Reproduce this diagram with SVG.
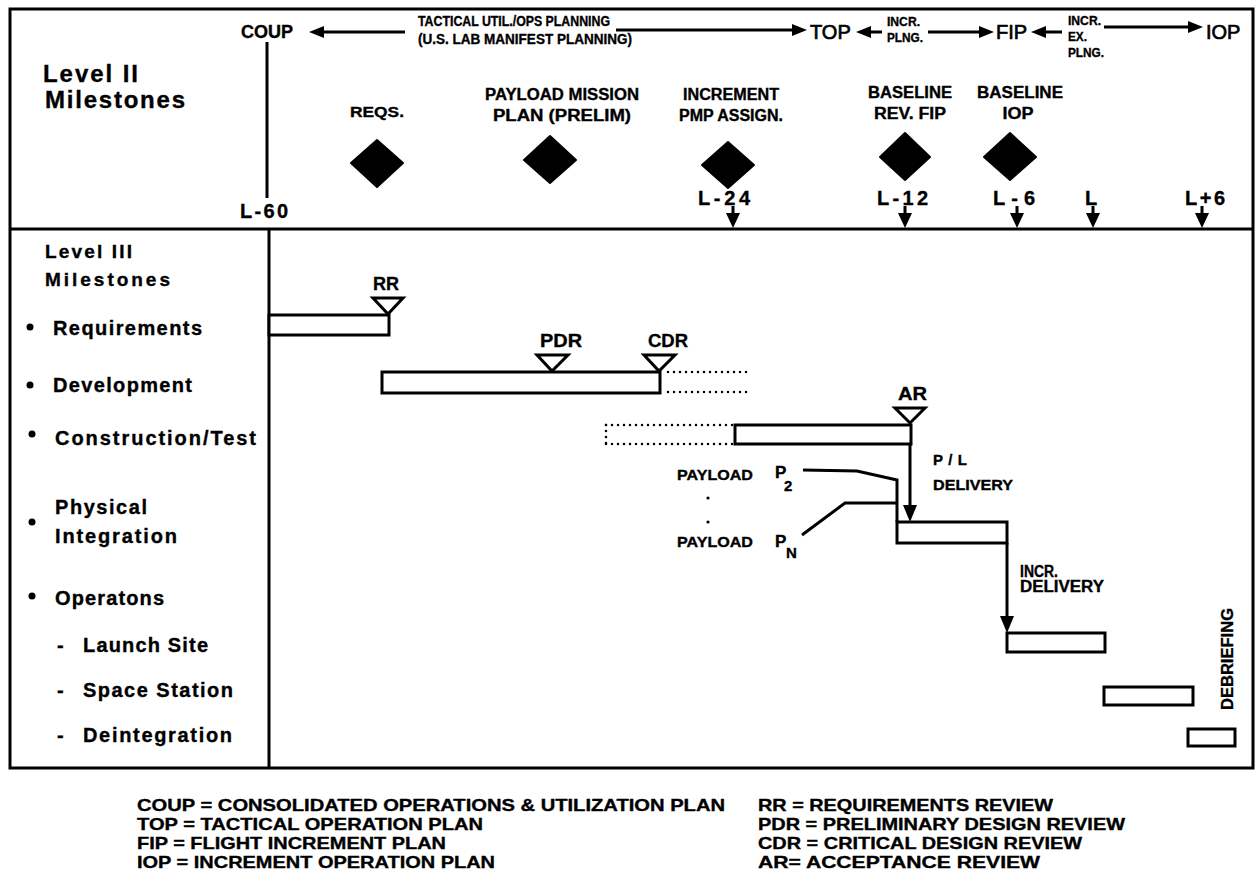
<svg xmlns="http://www.w3.org/2000/svg" width="1259" height="894" viewBox="0 0 1259 894">
<style>
.t{font-family:"Liberation Sans",Arial,sans-serif;font-weight:bold;fill:#000;stroke:#000;stroke-width:0.35}
.r{font-family:"Liberation Sans",Arial,sans-serif;font-weight:normal;fill:#000;stroke:#000;stroke-width:0.7}
.ln{stroke:#000;stroke-width:3;fill:none}
.bar{stroke:#000;stroke-width:3;fill:#fff}
.dot{stroke:#000;stroke-width:2.5;stroke-dasharray:0 6;stroke-linecap:round;fill:none}
.ah{fill:#000}
.dm{fill:#000;stroke:#000;stroke-width:2;stroke-linejoin:round}
.lg{font-size:16.5px}
</style>
<rect width="1259" height="894" fill="#fff"/>
<g id="frame">
<rect class="ln" x="10" y="9" width="1243" height="759"/>
<line class="ln" x1="10" y1="229" x2="1253" y2="229"/>
<line class="ln" x1="269" y1="229" x2="269" y2="768"/>
</g>
<g id="level2-labels">
<text class="t" x="43" y="82" font-size="24" textLength="95" lengthAdjust="spacing">Level  II</text>
<text class="t" x="45" y="108" font-size="24" textLength="140" lengthAdjust="spacing">Milestones</text>
</g>
<g id="coup">
<text class="t" x="267" y="38" font-size="18" text-anchor="middle">COUP</text>
<line class="ln" x1="267" y1="42" x2="267" y2="198"/>
<text class="t" x="240" y="218" font-size="20" textLength="48" lengthAdjust="spacing">L-60</text>
</g>
<g id="planning-header">
<text class="t" x="418" y="26" font-size="14" textLength="192" lengthAdjust="spacingAndGlyphs">TACTICAL UTIL./OPS PLANNING</text>
<text class="t" x="418" y="44" font-size="14" textLength="214" lengthAdjust="spacingAndGlyphs">(U.S. LAB MANIFEST PLANNING)</text>
<text class="r" x="810" y="39" font-size="20">TOP</text>
<text class="t" x="887" y="26" font-size="13" textLength="33" lengthAdjust="spacingAndGlyphs">INCR.</text>
<text class="t" x="887" y="42" font-size="13" textLength="36" lengthAdjust="spacingAndGlyphs">PLNG.</text>
<text class="r" x="996" y="39" font-size="20">FIP</text>
<text class="t" x="1068" y="25" font-size="13" textLength="33" lengthAdjust="spacingAndGlyphs">INCR.</text>
<text class="t" x="1068" y="41" font-size="13" textLength="19" lengthAdjust="spacingAndGlyphs">EX.</text>
<text class="t" x="1068" y="57" font-size="13" textLength="36" lengthAdjust="spacingAndGlyphs">PLNG.</text>
<text class="r" x="1206" y="39" font-size="20">IOP</text>
</g>
<g id="milestone-reqs">
<text class="t" x="377" y="117" font-size="15" text-anchor="middle" textLength="54" lengthAdjust="spacingAndGlyphs">REQS.</text>
<path class="dm" d="M377 140 L403 163 L377 187 L351 163 Z"/>
</g>
<g id="milestone-pmp">
<text class="t" x="562" y="100" font-size="16" text-anchor="middle" textLength="154" lengthAdjust="spacingAndGlyphs">PAYLOAD MISSION</text>
<text class="t" x="562" y="121" font-size="16" text-anchor="middle" textLength="138" lengthAdjust="spacingAndGlyphs">PLAN  (PRELIM)</text>
<path class="dm" d="M550 136 L576 160 L550 183 L524 160 Z"/>
</g>
<g id="milestone-increment">
<text class="t" x="731" y="100" font-size="16" text-anchor="middle" textLength="96" lengthAdjust="spacingAndGlyphs">INCREMENT</text>
<text class="t" x="731" y="121" font-size="16" text-anchor="middle" textLength="104" lengthAdjust="spacingAndGlyphs">PMP ASSIGN.</text>
<path class="dm" d="M728 142 L754 165 L728 188 L702 165 Z"/>
</g>
<g id="milestone-fip">
<text class="t" x="910" y="98" font-size="16" text-anchor="middle" textLength="84" lengthAdjust="spacingAndGlyphs">BASELINE</text>
<text class="t" x="910" y="119" font-size="16" text-anchor="middle" textLength="72" lengthAdjust="spacingAndGlyphs">REV. FIP</text>
<path class="dm" d="M905 133 L930 157 L905 180 L880 157 Z"/>
</g>
<g id="milestone-iop">
<text class="t" x="1020" y="98" font-size="16" text-anchor="middle" textLength="86" lengthAdjust="spacingAndGlyphs">BASELINE</text>
<text class="t" x="1018" y="119" font-size="16" text-anchor="middle" textLength="31" lengthAdjust="spacingAndGlyphs">IOP</text>
<path class="dm" d="M1010 133 L1036 157 L1010 180 L984 157 Z"/>
</g>
<g id="time-ticks">
<text class="t" x="698" y="205" font-size="20" textLength="52" lengthAdjust="spacing">L-24</text>
<text class="t" x="877" y="205" font-size="20" textLength="51" lengthAdjust="spacing">L-12</text>
<text class="t" x="993" y="205" font-size="20" textLength="42" lengthAdjust="spacing">L-6</text>
<text class="t" x="1085" y="205" font-size="20">L</text>
<text class="t" x="1185" y="205" font-size="20" textLength="40" lengthAdjust="spacing">L+6</text>
</g>
<g id="level3-labels">
<text class="t" x="45" y="258" font-size="19" textLength="87" lengthAdjust="spacing">Level  III</text>
<text class="t" x="45" y="286" font-size="19" textLength="125" lengthAdjust="spacing">Milestones</text>
<circle cx="30" cy="327" r="3.5"/>
<text class="t" x="53" y="335" font-size="20" textLength="149" lengthAdjust="spacing">Requirements</text>
<circle cx="30" cy="385" r="3.5"/>
<text class="t" x="53" y="392" font-size="20" textLength="139" lengthAdjust="spacing">Development</text>
<circle cx="32" cy="434" r="3.5"/>
<text class="t" x="55" y="445" font-size="20" textLength="201" lengthAdjust="spacing">Construction/Test</text>
<circle cx="32" cy="522" r="3.5"/>
<text class="t" x="55" y="514" font-size="20" textLength="92" lengthAdjust="spacing">Physical</text>
<text class="t" x="55" y="543" font-size="20" textLength="122" lengthAdjust="spacing">Integration</text>
<circle cx="32" cy="596" r="3.5"/>
<text class="t" x="55" y="605" font-size="20" textLength="109" lengthAdjust="spacing">Operatons</text>
<text class="t" x="57" y="652" font-size="20">-</text>
<text class="t" x="83" y="652" font-size="20" textLength="125" lengthAdjust="spacing">Launch  Site</text>
<text class="t" x="57" y="697" font-size="20">-</text>
<text class="t" x="83" y="697" font-size="20" textLength="150" lengthAdjust="spacing">Space  Station</text>
<text class="t" x="57" y="742" font-size="20">-</text>
<text class="t" x="83" y="742" font-size="20" textLength="149" lengthAdjust="spacing">Deintegration</text>
</g>
<g id="bar-requirements">
<rect class="bar" x="269" y="315" width="120" height="20"/>
<polygon class="bar" points="373,298 403,298 388,314"/>
<text class="t" x="373" y="290" font-size="19" textLength="26" lengthAdjust="spacingAndGlyphs">RR</text>
</g>
<g id="bar-development">
<rect class="bar" x="382" y="372" width="278" height="21"/>
<polygon class="bar" points="537,355 568,355 552,371"/>
<polygon class="bar" points="644,355 675,355 659,371"/>
<text class="t" x="540" y="347" font-size="19" textLength="42" lengthAdjust="spacingAndGlyphs">PDR</text>
<text class="t" x="648" y="347" font-size="19" textLength="40" lengthAdjust="spacingAndGlyphs">CDR</text>
<line class="dot" x1="668" y1="372" x2="750" y2="372"/>
<line class="dot" x1="668" y1="392" x2="750" y2="392"/>
</g>
<g id="bar-construction">
<line class="dot" x1="606" y1="425" x2="733" y2="425"/>
<line class="dot" x1="606" y1="444" x2="733" y2="444"/>
<line class="dot" x1="606" y1="425" x2="606" y2="444" stroke-dasharray="0 4"/>
<rect class="bar" x="735" y="425" width="176" height="19"/>
<polygon class="bar" points="895,408 925,408 910,423"/>
<text class="t" x="898" y="400" font-size="18" textLength="29" lengthAdjust="spacingAndGlyphs">AR</text>
</g>
<g id="payloads">
<text class="t" x="677" y="480" font-size="15" textLength="76" lengthAdjust="spacingAndGlyphs">PAYLOAD</text>
<text class="t" x="775" y="478" font-size="17">P</text>
<text class="t" x="784" y="491" font-size="15">2</text>
<circle cx="708" cy="498" r="1.6"/>
<circle cx="708" cy="522" r="1.6"/>
<text class="t" x="677" y="547" font-size="15" textLength="76" lengthAdjust="spacingAndGlyphs">PAYLOAD</text>
<text class="t" x="775" y="547" font-size="17">P</text>
<text class="t" x="786" y="558" font-size="15">N</text>
</g>
<g id="bar-integration">
<rect class="bar" x="897" y="522" width="110" height="21"/>
</g>
<g id="bar-launch-site">
<rect class="bar" x="1007" y="633" width="98" height="19"/>
</g>
<g id="bar-space-station">
<rect class="bar" x="1104" y="687" width="89" height="18"/>
</g>
<g id="bar-deintegration">
<rect class="bar" x="1188" y="729" width="47" height="17"/>
<text class="t" font-size="16" textLength="102" lengthAdjust="spacingAndGlyphs" transform="translate(1233,710) rotate(-90)">DEBRIEFING</text>
</g>
<g id="connectors">
<line class="ln" x1="405" y1="32" x2="322" y2="32"/>
<polygon class="ah" points="309,32 324,26 324,38"/>
<line class="ln" x1="616" y1="30" x2="795" y2="30"/>
<polygon class="ah" points="807,30 792,24 792,36"/>
<line class="ln" x1="882" y1="32" x2="868" y2="32"/>
<polygon class="ah" points="856,32 871,26 871,38"/>
<line class="ln" x1="928" y1="32" x2="982" y2="32"/>
<polygon class="ah" points="994,32 979,26 979,38"/>
<line class="ln" x1="1062" y1="32" x2="1043" y2="32"/>
<polygon class="ah" points="1031,32 1046,26 1046,38"/>
<line class="ln" x1="1104" y1="27" x2="1191" y2="27"/>
<polygon class="ah" points="1203,27 1188,21 1188,33"/>
<g id="ticks">
<line class="ln" x1="733" y1="206" x2="733" y2="215"/>
<polygon class="ah" points="726,213 740,213 733,228"/>
<line class="ln" x1="905" y1="206" x2="905" y2="215"/>
<polygon class="ah" points="898,213 912,213 905,228"/>
<line class="ln" x1="1017" y1="206" x2="1017" y2="215"/>
<polygon class="ah" points="1010,213 1024,213 1017,228"/>
<line class="ln" x1="1093" y1="206" x2="1093" y2="215"/>
<polygon class="ah" points="1086,213 1100,213 1093,228"/>
<line class="ln" x1="1202" y1="206" x2="1202" y2="215"/>
<polygon class="ah" points="1195,213 1209,213 1202,228"/>
</g>
<line class="ln" x1="910" y1="444" x2="910" y2="507"/>
<polygon class="ah" points="903,505 917,505 910,522"/>
<path class="ln" d="M803 470 L857 471 L897 480 L897 522"/>
<path class="ln" d="M802 535 L845 503 L897 503"/>
<line class="ln" x1="1007" y1="543" x2="1007" y2="618"/>
<polygon class="ah" points="1000,616 1014,616 1007,633"/>
</g>
<g id="delivery-labels">
<text class="t" x="933" y="465" font-size="15" textLength="34" lengthAdjust="spacing">P/L</text>
<text class="t" x="933" y="490" font-size="15" textLength="80" lengthAdjust="spacingAndGlyphs">DELIVERY</text>
<text class="t" x="1020" y="577" font-size="16" textLength="38" lengthAdjust="spacingAndGlyphs">INCR.</text>
<text class="t" x="1020" y="592" font-size="16" textLength="84" lengthAdjust="spacingAndGlyphs">DELIVERY</text>
</g>
<g id="legend">
<text class="t lg" x="137" y="811" textLength="588" lengthAdjust="spacingAndGlyphs">COUP = CONSOLIDATED OPERATIONS &amp; UTILIZATION PLAN</text>
<text class="t lg" x="137" y="830" textLength="346" lengthAdjust="spacingAndGlyphs">TOP = TACTICAL OPERATION PLAN</text>
<text class="t lg" x="137" y="849" textLength="309" lengthAdjust="spacingAndGlyphs">FIP = FLIGHT INCREMENT PLAN</text>
<text class="t lg" x="137" y="868" textLength="358" lengthAdjust="spacingAndGlyphs">IOP = INCREMENT OPERATION PLAN</text>
<text class="t lg" x="758" y="811" textLength="295" lengthAdjust="spacingAndGlyphs">RR = REQUIREMENTS REVIEW</text>
<text class="t lg" x="758" y="830" textLength="367" lengthAdjust="spacingAndGlyphs">PDR = PRELIMINARY DESIGN REVIEW</text>
<text class="t lg" x="758" y="849" textLength="324" lengthAdjust="spacingAndGlyphs">CDR = CRITICAL DESIGN REVIEW</text>
<text class="t lg" x="758" y="868" textLength="282" lengthAdjust="spacingAndGlyphs">AR= ACCEPTANCE REVIEW</text>
</g>
</svg>
